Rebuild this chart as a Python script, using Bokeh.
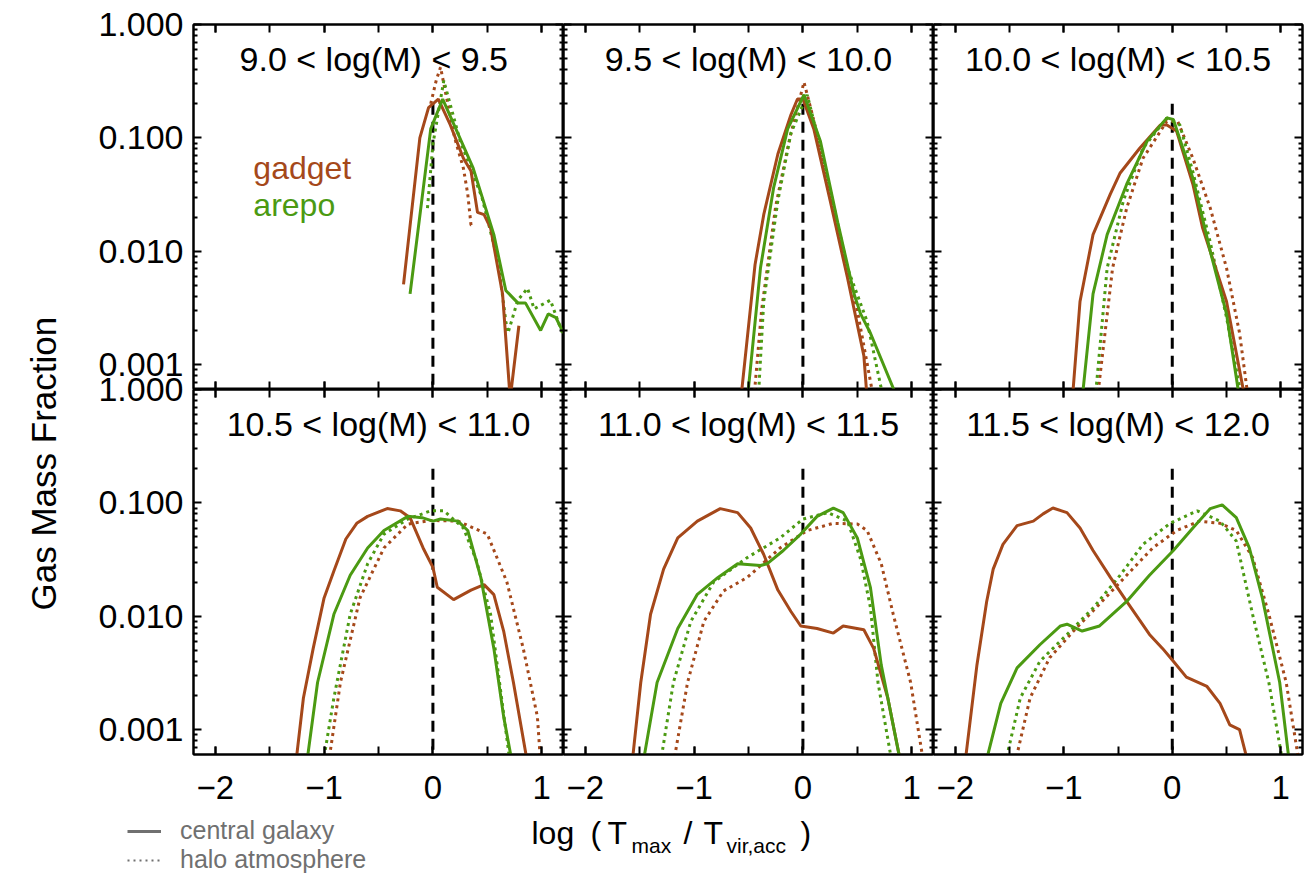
import math
from bokeh.plotting import figure
from bokeh.models import (Range1d, FixedTicker, LinearAxis, LogAxis, Label,
                          Legend, LegendItem, CustomJSTickFormatter)
from bokeh.layouts import row, column
from bokeh.embed import file_html
from bokeh.resources import INLINE

FONT = "Liberation Sans"
BROWN = "#A5481A"
GREEN = "#4B9A12"
GRAY = "#707070"

# ---------------- axes / ticks ----------------
X_LO, X_HI = -2.2, 1.2
Y_LO_EXP = -3.22          # bottom of each panel = 10**-3.22
Y_BOTTOM = 5e-4           # "off the bottom" value for curves that leave the panel
x_ticks = [-2, -1, 0, 1]
x_tick_labels = ["\u22122", "\u22121", "0", "1"]
x_minor = [-2, -1.5, -1, -0.5, 0, 0.5, 1]
y_ticks = [0.001, 0.01, 0.1, 1.0]
y_tick_labels = ["0.001", "0.010", "0.100", "1.000"]
y_minor = [m * 10.0 ** e for e in range(-4, 0) for m in range(2, 10)]

titles = ["9.0 < log(M) <  9.5", "9.5 < log(M) < 10.0", "10.0 < log(M) < 10.5",
          "10.5 < log(M) < 11.0", "11.0 < log(M) < 11.5", "11.5 < log(M) < 12.0"]
code_names = ["gadget", "arepo"]
code_label_y = [0.054, 0.0255]
legend_labels = ["central galaxy", "halo atmosphere"]
vline_x = 0.0
vline_top = 0.2

# ---------------- data ----------------
# panel 1 : 9.0 - 9.5
p1_gc_x = [-0.27, -0.12, -0.04, 0.05, 0.16, 0.28, 0.35, 0.41, 0.47, 0.53, 0.64, 0.71, 0.79]
p1_gc_y = [0.0051, 0.10, 0.185, 0.22, 0.13, 0.066, 0.051, 0.022, 0.021, 0.016, 0.0042, Y_BOTTOM, 0.0022]
p1_ac_x = [-0.21, -0.02, 0.09, 0.37, 0.56, 0.67, 0.78, 0.85, 0.99, 1.06, 1.13, 1.2]
p1_ac_y = [0.0042, 0.12, 0.22, 0.054, 0.014, 0.0045, 0.0035, 0.0035, 0.0020, 0.0028, 0.0026, 0.0019]
p1_ga_x = [-0.02, 0.03, 0.07, 0.12, 0.2, 0.28, 0.32, 0.35, 0.38]
p1_ga_y = [0.2, 0.32, 0.42, 0.24, 0.1, 0.054, 0.032, 0.017, 0.017]
p1_aa_x = [-0.05, 0.0, 0.1, 0.25, 0.45, 0.6, 0.67, 0.69, 0.78, 0.87, 0.93, 1.08, 1.15, 1.2]
p1_aa_y = [0.024, 0.088, 0.32, 0.094, 0.03, 0.008, 0.0024, 0.0019, 0.0037, 0.0047, 0.0031, 0.0037, 0.0024, 0.0018]

# panel 2 : 9.5 - 10.0
p2_gc_x = [-0.57, -0.44, -0.36, -0.23, -0.11, -0.05, 0.0, 0.10, 0.25, 0.41, 0.56, 0.59]
p2_gc_y = [Y_BOTTOM, 0.0076, 0.021, 0.072, 0.16, 0.22, 0.22, 0.12, 0.028, 0.0058, 0.0012, Y_BOTTOM]
p2_ac_x = [-0.51, -0.39, -0.27, -0.14, 0.01, 0.16, 0.32, 0.47, 0.53, 0.62, 0.87]
p2_ac_y = [Y_BOTTOM, 0.0071, 0.036, 0.12, 0.24, 0.094, 0.018, 0.0042, 0.0028, 0.0019, Y_BOTTOM]
p2_ga_x = [-0.45, -0.38, -0.25, -0.12, 0.01, 0.12, 0.3, 0.5, 0.65]
p2_ga_y = [Y_BOTTOM, 0.003, 0.025, 0.1, 0.31, 0.12, 0.02, 0.003, Y_BOTTOM]
p2_aa_x = [-0.41, -0.36, -0.23, -0.11, 0.04, 0.19, 0.41, 0.59, 0.74]
p2_aa_y = [Y_BOTTOM, 0.0036, 0.028, 0.11, 0.24, 0.063, 0.0071, 0.0024, Y_BOTTOM]

# panel 3 : 10.0 - 10.5
p3_gc_x = [-0.92, -0.85, -0.73, -0.57, -0.48, -0.30, -0.11, -0.05, 0.04, 0.19, 0.28, 0.37, 0.50, 0.67]
p3_gc_y = [Y_BOTTOM, 0.0036, 0.014, 0.032, 0.049, 0.081, 0.13, 0.13, 0.115, 0.039, 0.016, 0.0087, 0.0036, Y_BOTTOM]
p3_ac_x = [-0.83, -0.73, -0.60, -0.42, -0.23, -0.05, 0.01, 0.19, 0.35, 0.50, 0.62]
p3_ac_y = [Y_BOTTOM, 0.0042, 0.014, 0.039, 0.094, 0.15, 0.145, 0.044, 0.010, 0.0028, Y_BOTTOM]
p3_ga_x = [-0.69, -0.55, -0.42, -0.27, -0.05, 0.05, 0.19, 0.35, 0.50, 0.62, 0.70]
p3_ga_y = [Y_BOTTOM, 0.0071, 0.024, 0.066, 0.14, 0.14, 0.066, 0.024, 0.0071, 0.0019, Y_BOTTOM]
p3_aa_x = [-0.71, -0.60, -0.45, -0.27, -0.05, 0.07, 0.19, 0.35, 0.50, 0.64]
p3_aa_y = [Y_BOTTOM, 0.0071, 0.028, 0.081, 0.15, 0.13, 0.05, 0.012, 0.0026, Y_BOTTOM]

# panel 4 : 10.5 - 11.0
p4_gc_x = [-1.26, -1.19, -1.10, -1.0, -0.91, -0.80, -0.70, -0.60, -0.42, -0.30, -0.21, -0.09, 0.0, 0.04,
           0.19, 0.35, 0.47, 0.56, 0.65, 0.74, 0.87]
p4_gc_y = [Y_BOTTOM, 0.0019, 0.0052, 0.0145, 0.025, 0.048, 0.066, 0.076, 0.089, 0.085, 0.074, 0.040, 0.027,
           0.018, 0.014, 0.017, 0.019, 0.0155, 0.0074, 0.0026, Y_BOTTOM]
p4_ac_x = [-1.16, -1.06, -0.91, -0.76, -0.60, -0.45, -0.23, -0.1, 0.0, 0.07, 0.23, 0.32, 0.44, 0.56, 0.65, 0.73]
p4_ac_y = [Y_BOTTOM, 0.0026, 0.0104, 0.023, 0.040, 0.057, 0.076, 0.074, 0.069, 0.072, 0.069, 0.057, 0.022,
           0.0052, 0.0013, Y_BOTTOM]
p4_ga_x = [-0.96, -0.85, -0.67, -0.45, -0.23, -0.02, 0.23, 0.50, 0.68, 0.83, 0.96, 0.99]
p4_ga_y = [Y_BOTTOM, 0.0026, 0.0145, 0.040, 0.065, 0.070, 0.069, 0.053, 0.020, 0.0052, 0.0013, Y_BOTTOM]
p4_aa_x = [-1.01, -0.91, -0.76, -0.60, -0.45, -0.23, -0.02, 0.10, 0.28, 0.40, 0.53, 0.71]
p4_aa_y = [Y_BOTTOM, 0.0019, 0.0104, 0.029, 0.053, 0.072, 0.085, 0.085, 0.06, 0.031, 0.0104, Y_BOTTOM]

# panel 5 : 11.0 - 11.5
p5_gc_x = [-1.57, -1.49, -1.40, -1.28, -1.15, -0.97, -0.76, -0.60, -0.48, -0.36, -0.23, -0.11, -0.02,
           0.13, 0.28, 0.37, 0.56, 0.65, 0.78, 0.90]
p5_gc_y = [Y_BOTTOM, 0.0026, 0.0104, 0.026, 0.049, 0.069, 0.089, 0.082, 0.06, 0.035, 0.017, 0.011, 0.0082,
           0.0078, 0.0071, 0.0082, 0.0076, 0.0052, 0.0019, Y_BOTTOM]
p5_ac_x = [-1.47, -1.34, -1.15, -0.97, -0.78, -0.60, -0.39, -0.33, -0.18, -0.02, 0.13, 0.28, 0.37, 0.50,
           0.62, 0.72, 0.90]
p5_ac_y = [Y_BOTTOM, 0.0026, 0.0078, 0.0156, 0.022, 0.029, 0.028, 0.029, 0.038, 0.053, 0.076, 0.090, 0.082,
           0.049, 0.018, 0.0037, Y_BOTTOM]
p5_ga_x = [-1.19, -1.06, -0.91, -0.73, -0.51, -0.21, 0.04, 0.28, 0.50, 0.59, 0.72, 0.83, 0.99, 1.11]
p5_ga_y = [Y_BOTTOM, 0.0026, 0.009, 0.0167, 0.022, 0.040, 0.057, 0.066, 0.065, 0.057, 0.029, 0.0104, 0.0026,
           Y_BOTTOM]
p5_aa_x = [-1.31, -1.19, -1.03, -0.82, -0.51, -0.21, 0.0, 0.23, 0.41, 0.53, 0.62, 0.69, 0.82]
p5_aa_y = [Y_BOTTOM, 0.0026, 0.009, 0.020, 0.033, 0.049, 0.072, 0.082, 0.069, 0.032, 0.012, 0.0026, Y_BOTTOM]

# panel 6 : 11.5 - 12.0
p6_gc_x = [-1.91, -1.80, -1.71, -1.65, -1.56, -1.43, -1.28, -1.19, -1.10, -0.97, -0.85, -0.73, -0.57,
           -0.42, -0.21, -0.09, 0.01, 0.13, 0.32, 0.44, 0.53, 0.62, 0.70]
p6_gc_y = [Y_BOTTOM, 0.0037, 0.0135, 0.026, 0.043, 0.063, 0.069, 0.080, 0.090, 0.082, 0.060, 0.038, 0.022,
           0.0135, 0.0069, 0.0052, 0.0040, 0.0029, 0.0024, 0.0017, 0.0011, 0.0010, Y_BOTTOM]
p6_ac_x = [-1.72, -1.58, -1.43, -1.22, -1.03, -0.97, -0.83, -0.67, -0.42, -0.21, 0.01, 0.19, 0.35, 0.46,
           0.59, 0.71, 0.83, 0.99, 1.08]
p6_ac_y = [Y_BOTTOM, 0.0017, 0.0035, 0.0056, 0.0082, 0.0085, 0.0074, 0.0082, 0.0135, 0.023, 0.038, 0.060,
           0.089, 0.096, 0.074, 0.040, 0.0145, 0.0026, Y_BOTTOM]
p6_ga_x = [-1.45, -1.31, -1.13, -0.91, -0.67, -0.42, -0.18, 0.04, 0.25, 0.44, 0.59, 0.74, 0.89, 1.05, 1.17]
p6_ga_y = [Y_BOTTOM, 0.0019, 0.0043, 0.0074, 0.0128, 0.023, 0.040, 0.057, 0.069, 0.066, 0.057, 0.033, 0.0104,
           0.0026, Y_BOTTOM]
p6_aa_x = [-1.54, -1.40, -1.22, -0.97, -0.73, -0.48, -0.27, -0.02, 0.23, 0.44, 0.59, 0.74, 0.89, 1.02]
p6_aa_y = [Y_BOTTOM, 0.0019, 0.0040, 0.0069, 0.0118, 0.023, 0.043, 0.066, 0.085, 0.069, 0.046, 0.0104, 0.0026,
           Y_BOTTOM]

panel_data = [
    (p1_gc_x, p1_gc_y, p1_ac_x, p1_ac_y, p1_ga_x, p1_ga_y, p1_aa_x, p1_aa_y),
    (p2_gc_x, p2_gc_y, p2_ac_x, p2_ac_y, p2_ga_x, p2_ga_y, p2_aa_x, p2_aa_y),
    (p3_gc_x, p3_gc_y, p3_ac_x, p3_ac_y, p3_ga_x, p3_ga_y, p3_aa_x, p3_aa_y),
    (p4_gc_x, p4_gc_y, p4_ac_x, p4_ac_y, p4_ga_x, p4_ga_y, p4_aa_x, p4_aa_y),
    (p5_gc_x, p5_gc_y, p5_ac_x, p5_ac_y, p5_ga_x, p5_ga_y, p5_aa_x, p5_aa_y),
    (p6_gc_x, p6_gc_y, p6_ac_x, p6_ac_y, p6_ga_x, p6_ga_y, p6_aa_x, p6_aa_y),
]

# ---------------- layout sizes ----------------
PAGE_W, PAGE_H = 1308, 874
FW = [370, 370, 369]
FH = 365
TOP_B = 24
BOT_B = 59
YLAB_W = 80
AXW = 111
RIGHT_B = 6
UPPER_H = TOP_B + 2 * FH + BOT_B

EMPTY = "return '';"


def style_axis(ax, ticker, major_in, minor_in):
    ax.ticker = ticker
    ax.major_tick_in = major_in
    ax.major_tick_out = 0
    ax.minor_tick_in = minor_in
    ax.minor_tick_out = 0
    ax.major_tick_line_width = 2
    ax.minor_tick_line_width = 2
    ax.axis_line_width = 2
    ax.axis_line_color = "black"
    ax.major_tick_line_color = "black"
    ax.minor_tick_line_color = "black"
    ax.formatter = CustomJSTickFormatter(code=EMPTY)
    ax.major_label_text_font_size = "0px"
    ax.major_label_standoff = 0


def make_panel(i):
    top = i < 3
    col = i % 3
    p = figure(x_range=Range1d(X_LO, X_HI), y_range=Range1d(10 ** Y_LO_EXP, 1.0),
               y_axis_type="log", frame_width=FW[col], frame_height=FH,
               toolbar_location=None, output_backend="svg", title=None,
               min_border_left=2 if col == 0 else 0,
               min_border_right=RIGHT_B if col == 2 else 0,
               min_border_top=TOP_B if top else 0,
               min_border_bottom=0 if top else BOT_B,
               background_fill_color="white", border_fill_color="white",
               outline_line_color="black", outline_line_width=2)
    p.grid.visible = False
    bottom_ax = p.below[0]
    left_ax = p.left[0]
    style_axis(bottom_ax, FixedTicker(ticks=x_ticks, minor_ticks=x_minor), 8, 8)
    style_axis(left_ax, FixedTicker(ticks=y_ticks, minor_ticks=y_minor), 8, 4)
    top_ax = LinearAxis()
    style_axis(top_ax, FixedTicker(ticks=x_ticks, minor_ticks=x_minor), 8, 8)
    p.add_layout(top_ax, "above")
    right_ax = LogAxis()
    style_axis(right_ax, FixedTicker(ticks=y_ticks, minor_ticks=y_minor), 8, 4)
    p.add_layout(right_ax, "right")
    if not top:
        bottom_ax.formatter = CustomJSTickFormatter(
            args=dict(tvals=x_ticks, tlabs=x_tick_labels),
            code="let b=0,bd=1e9;for(let i=0;i<tvals.length;i++){const d=Math.abs(tick-tvals[i]);"
                 "if(d<bd){bd=d;b=i;}}return bd<1e-6?tlabs[b]:'';")
        bottom_ax.major_label_text_font_size = "33px"
        bottom_ax.major_label_text_font = FONT
        bottom_ax.major_label_text_color = "black"
        bottom_ax.major_label_standoff = 21

    gx, gy, ax_, ay, gax, gay, aax, aay = panel_data[i]
    p.segment(x0=[vline_x], y0=[vline_top], x1=[vline_x], y1=[Y_BOTTOM],
              line_color="black", line_width=3, line_dash="11 7")
    p.line(gax, gay, line_color=BROWN, line_width=3, line_dash="3 4")
    p.line(aax, aay, line_color=GREEN, line_width=3, line_dash="3 4")
    p.line(gx, gy, line_color=BROWN, line_width=3)
    p.line(ax_, ay, line_color=GREEN, line_width=3)

    p.add_layout(Label(x=(X_LO + X_HI) / 2, y=1.0, y_offset=-34, text=titles[i],
                       text_align="center", text_baseline="middle",
                       text_font=FONT, text_font_size="34px", text_color="black"))
    return p


panels = [make_panel(i) for i in range(6)]

# code names in the first panel
for name, yy, colr in zip(code_names, code_label_y, [BROWN, GREEN]):
    panels[0].add_layout(Label(x=-1.65, y=yy, text=name, text_align="left",
                               text_baseline="middle", text_font=FONT,
                               text_font_size="32px", text_color=colr))

# ---------------- y-axis title strip ----------------
ylabfig = figure(x_range=Range1d(0, YLAB_W), y_range=Range1d(0, UPPER_H),
                 frame_width=YLAB_W, frame_height=UPPER_H, min_border=0, title=None,
                 x_axis_location=None, y_axis_location=None, toolbar_location=None,
                 output_backend="svg", outline_line_color=None,
                 background_fill_color="white", border_fill_color="white")
ylabfig.grid.visible = False
# text starts at the bottom ("G" near y = 586 from page top) and reads upwards;
# its letter tops face the left edge at x ~ 23
ylabfig.add_layout(Label(x=23, y=UPPER_H - 586, text="Gas Mass Fraction", angle=math.pi / 2,
                         text_align="left", text_baseline="top",
                         text_font=FONT, text_font_size="35px", text_color="black"))

# ---------------- shared y tick labels for both rows ----------------
axfig = figure(x_range=Range1d(0, 1), y_range=Range1d(10 ** (2 * Y_LO_EXP), 1.0),
               y_axis_type="log", frame_width=2, frame_height=2 * FH, title=None,
               min_border_left=AXW - 2, min_border_right=0, min_border_top=TOP_B,
               min_border_bottom=BOT_B, toolbar_location=None, output_backend="svg",
               outline_line_color=None, background_fill_color="white", border_fill_color="white")
axfig.grid.visible = False
axfig.xaxis.visible = False
yax = axfig.left[0]
all_y_ticks = y_ticks + [t * 10 ** Y_LO_EXP for t in y_ticks]
yax.ticker = FixedTicker(ticks=all_y_ticks, minor_ticks=[])
yax.formatter = CustomJSTickFormatter(
    args=dict(tvals=all_y_ticks, tlabs=y_tick_labels + y_tick_labels),
    code="let b=0,bd=1e9;for(let i=0;i<tvals.length;i++){const d=Math.abs(Math.log10(tick)-Math.log10(tvals[i]));"
         "if(d<bd){bd=d;b=i;}}return bd<0.01?tlabs[b]:'';")
yax.axis_line_color = None
yax.major_tick_line_color = None
yax.minor_tick_line_color = None
yax.major_tick_in = 0
yax.major_tick_out = 0
yax.minor_tick_in = 0
yax.minor_tick_out = 0
yax.major_label_standoff = 6
yax.major_label_text_font = FONT
yax.major_label_text_font_size = "34px"
yax.major_label_text_color = "black"

# ---------------- bottom strip: x-axis title and line-style legend ----------------
BOT_H = PAGE_H - UPPER_H
bfig = figure(x_range=Range1d(0, PAGE_W), y_range=Range1d(0, BOT_H),
              frame_width=PAGE_W, frame_height=BOT_H, min_border=0, title=None,
              x_axis_location=None, y_axis_location=None, toolbar_location=None,
              output_backend="svg", outline_line_color=None,
              background_fill_color="white", border_fill_color="white")
bfig.grid.visible = False

# (text, left x, vertical centre measured from page top, font size)
xlabel_parts = [("log", 531, 832.5, 32), ("(", 590, 832.5, 32), ("T", 607, 832.5, 32),
                ("max", 631, 845, 21), ("/", 683, 832.5, 32), ("T", 703, 832.5, 32),
                ("vir,acc", 726, 845, 21), (")", 800, 832.5, 32)]
for txt, xx, yy, fs in xlabel_parts:
    bfig.add_layout(Label(x=xx, y=PAGE_H - yy, text=txt, text_align="left", text_baseline="middle",
                          text_font=FONT, text_font_size=f"{fs}px", text_color="black"))

nan = float("nan")
r_solid = bfig.line(x=[nan], y=[nan], line_color=GRAY, line_width=3)
r_dot = bfig.line(x=[nan], y=[nan], line_color=GRAY, line_width=2, line_dash="2 4")
legend = Legend(items=[LegendItem(label=legend_labels[0], renderers=[r_solid]),
                       LegendItem(label=legend_labels[1], renderers=[r_dot])],
                location=(127, 0), orientation="vertical",
                border_line_color=None, background_fill_alpha=0,
                padding=0, margin=0, spacing=0, glyph_width=34, glyph_height=26,
                label_height=26, label_standoff=19,
                label_text_font=FONT, label_text_font_size="25px", label_text_color=GRAY)
bfig.add_layout(legend)

grid = column(row(panels[0], panels[1], panels[2]), row(panels[3], panels[4], panels[5]))
layout = column(row(ylabfig, axfig, grid), bfig)

open("out.html", "w").write(file_html(layout, INLINE))
